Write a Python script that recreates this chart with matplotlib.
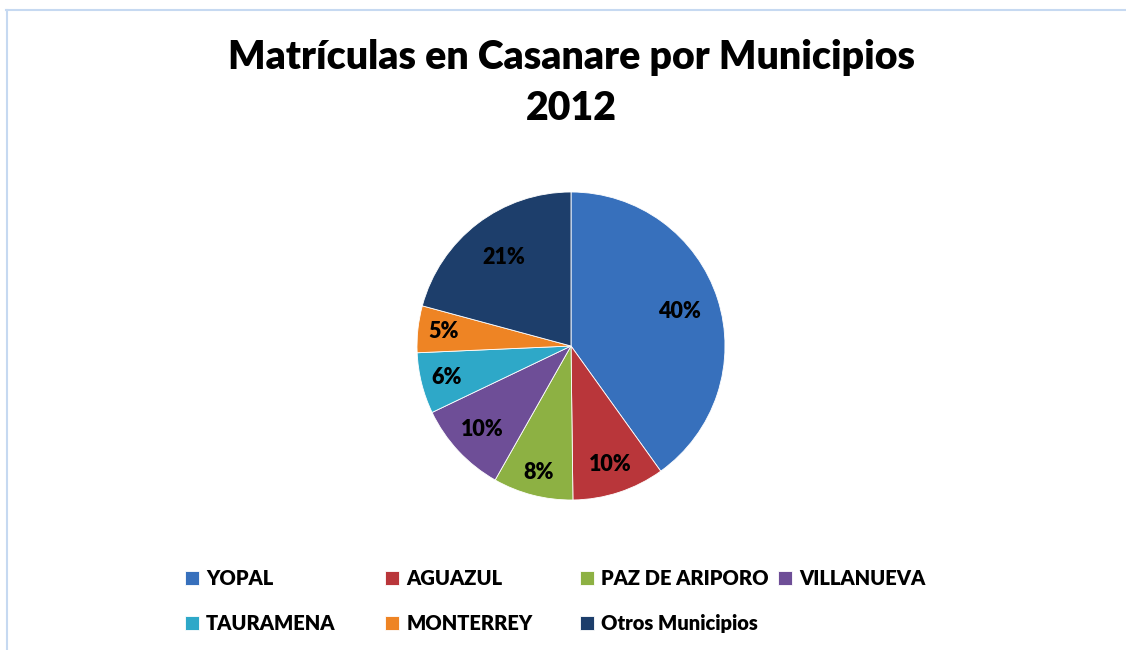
import matplotlib
matplotlib.use("Agg")
import numpy as np
import matplotlib.pyplot as plt
from matplotlib.lines import Line2D

# datos (porcentaje de matriculas 2012)
municipios = ["YOPAL", "AGUAZUL", "PAZ DE ARIPORO", "VILLANUEVA",
              "TAURAMENA", "MONTERREY", "Otros Municipios"]
porcentajes = [40.1, 9.7, 8.4, 9.7, 6.4, 4.9, 20.8]
colores = ["#3770BC", "#B9363A", "#8DB143", "#6E4E97",
           "#2EA8C8", "#EE8424", "#1D3E6B"]

titulo = "Matrículas en Casanare por Municipios"
anio = "2012"

PESO = "heavy"
plt.rcParams["font.family"] = ["Lato", "DejaVu Sans"]
plt.rcParams["font.weight"] = PESO

W, H = 1126, 650
fig = plt.figure(figsize=(W / 100, H / 100), dpi=100)

# pie: centro (571, 346) px, radio 154 px
cx, cy, r = 571, 346, 154
ax = fig.add_axes([(cx - r) / W, (H - cy - r) / H, 2 * r / W, 2 * r / H])
wedges, texts, autotexts = ax.pie(
    porcentajes, colors=colores, startangle=90, counterclock=False,
    autopct="%.0f%%", pctdistance=0.78,
    wedgeprops=dict(linewidth=0.6, edgecolor="white"),
    textprops=dict(fontsize=15.5, fontweight=PESO, color="black"))
ax.set_xlim(-1, 1)
ax.set_ylim(-1, 1)
for w in wedges:
    w.set_clip_on(False)

# etiquetas a distancia "best fit" como en excel
dist = [0.74, 0.81, 0.85, 0.79, 0.83, 0.83, 0.72]
for w, t, d in zip(wedges, autotexts, dist):
    ang = np.deg2rad((w.theta1 + w.theta2) / 2)
    t.set_position((d * np.cos(ang), d * np.sin(ang)))

fig.text(cx / W, 1 - 58 / H, titulo, ha="center", va="center",
         fontsize=28.3, fontweight=PESO)
fig.text(cx / W, 1 - 108 / H, anio, ha="center", va="center",
         fontsize=28.3, fontweight=PESO)

# leyenda en 4 columnas de ancho fijo
col_x = [185, 385, 580, 778]
for j, x in enumerate(col_x):
    idx = [k for k in (j, j + 4) if k < len(municipios)]
    leg = fig.legend([wedges[k] for k in idx], [municipios[k] for k in idx],
                     loc="upper left", bbox_to_anchor=(x / W, 1 - 569 / H),
                     frameon=False, borderpad=0, borderaxespad=0,
                     fontsize=14.5, handlelength=0.7, handleheight=0.7,
                     handletextpad=0.35, labelspacing=1.3)
    for t in leg.get_texts():
        t.set_fontweight(PESO)

# borde del area del grafico
borde = "#C6D9F1"
fig.add_artist(Line2D([6 / W, 1], [1 - 10 / H, 1 - 10 / H], color=borde,
                      lw=1.5, transform=fig.transFigure))
fig.add_artist(Line2D([7 / W, 7 / W], [0, 1 - 10 / H], color=borde,
                      lw=1.5, transform=fig.transFigure))

fig.savefig("out.png", dpi=100)
